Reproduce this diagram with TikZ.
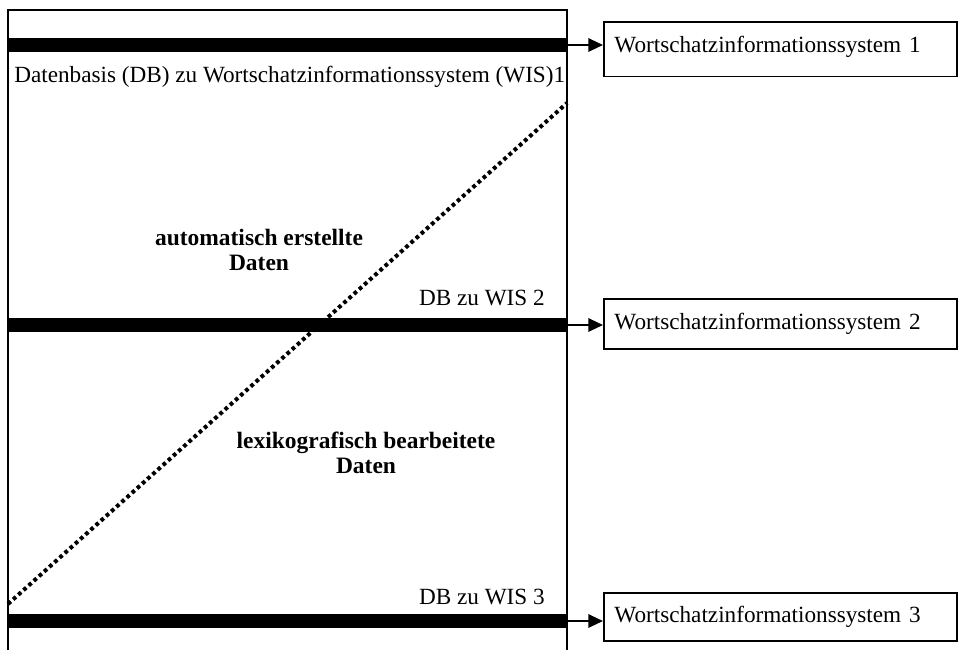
\documentclass[tikz,border=0pt]{standalone}
\usepackage{fontspec}
\setmainfont{Liberation Serif}
\usetikzlibrary{arrows.meta}
\begin{document}
\begin{tikzpicture}[x=0.75pt,y=-0.75pt,
  every node/.style={font=\fontsize{17.4pt}{20pt}\selectfont},
  frameline/.style={line width=1.2pt},
  bar/.style={line width=11pt},
  arr/.style={line width=1.6pt,-{Triangle[length=11pt,width=10pt]}},
  wbox/.style={draw,line width=1.2pt,anchor=north west,inner xsep=8pt,inner ysep=0pt,
    text width=355*0.75pt-16pt-1.2pt,align=left},
  boldlbl/.style={font=\fontsize{17.6pt}{19pt}\selectfont\bfseries,align=center},
  dotline/.style={line width=3pt,dash pattern=on 2.8pt off 2.4pt}]
\useasboundingbox (0,0) rectangle (960,650);
% frame
\coordinate (fl) at (8,650);
\coordinate (ftl) at (8,10);
\coordinate (ftr) at (567,10);
\coordinate (fr) at (567,650);
\draw[frameline] (fl) -- (ftl) -- (ftr) -- (fr);
% bars
\coordinate (b1s) at (8,45);   \coordinate (b1e) at (567,45);
\coordinate (b2s) at (8,325);  \coordinate (b2e) at (567,325);
\coordinate (b3s) at (8,621);  \coordinate (b3e) at (567,621);
\draw[bar] (b1s) -- (b1e);
\draw[bar] (b2s) -- (b2e);
\draw[bar] (b3s) -- (b3e);
% dotted diagonal
\coordinate (d1) at (8,604);
\coordinate (d2) at (567,103);
\draw[dotline] (d1) -- (d2);
% boxes
\node[wbox,text height=23pt,text depth=18pt] (box1) at (603,21) {Wortschatzinformationssystem 1};
\node[wbox,text height=23pt,text depth=14.5pt] (box2) at (603,298) {Wortschatzinformationssystem 2};
\node[wbox,text height=22pt,text depth=14pt] (box3) at (603,592) {Wortschatzinformationssystem 3};
\draw[arr] (b1e) -- (b1e -| box1.west);
\draw[arr] (b2e) -- (b2e -| box2.west);
\draw[arr] (b3e) -- (b3e -| box3.west);
% labels
\node[anchor=base west,inner sep=0pt] (l1) at (14,82) {Datenbasis (DB) zu Wortschatzinformationssystem (WIS)1};
\node[anchor=base east,inner sep=0pt] (l2) at (545,305) {DB zu WIS 2};
\node[anchor=base east,inner sep=0pt] (l3) at (545,604) {DB zu WIS 3};
\node[boldlbl] (a1) at (259,250) {automatisch erstellte\\Daten};
\node[boldlbl] (a2) at (366,453) {lexikografisch bearbeitete\\Daten};
\end{tikzpicture}
\end{document}
